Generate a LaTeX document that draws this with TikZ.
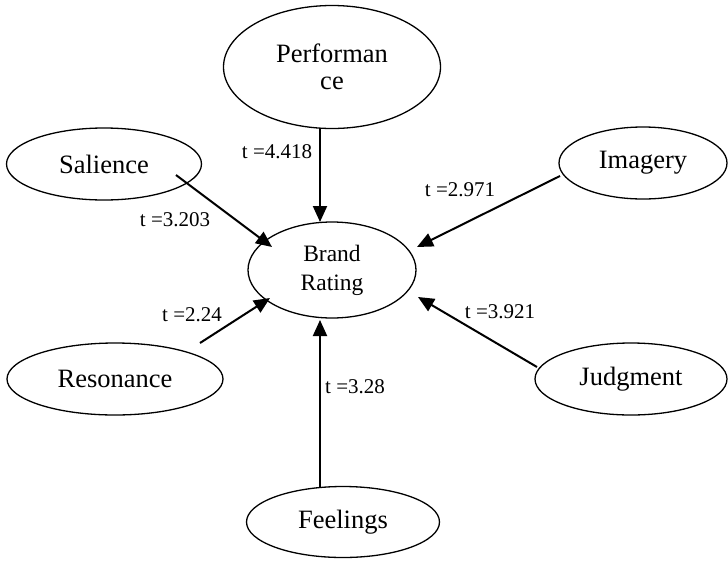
\documentclass[tikz,border=0pt]{standalone}
\usepackage{fontspec}
\setmainfont{Liberation Serif}
\usetikzlibrary{shapes.geometric,arrows.meta,positioning,calc}

\tikzset{
    construct/.style={ellipse, draw, line width=1.3pt, inner sep=0pt, align=center, font=\fontsize{26.5}{27.5}\selectfont},
    tval/.style={inner sep=0pt, font=\fontsize{21}{24}\selectfont},
    effect/.style={-{Triangle[length=16pt,width=14pt]}, line width=2pt},
}

\begin{document}
\begin{tikzpicture}[x=1pt, y=-1pt]
    \useasboundingbox (0,0) rectangle (728,560);
    % dimensions
    \node[construct, minimum width=217pt, minimum height=123pt] (perf) at (332,67) {Performan\\ce};
    \node[construct, minimum width=195pt, minimum height=72pt] (sal) at (104,164) {Salience};
    \node[construct, minimum width=168pt, minimum height=72pt] (img) at (643,163) {Imagery};
    \node[construct, minimum width=216pt, minimum height=72pt] (res) at (115,379) {Resonance};
    \node[construct, minimum width=192pt, minimum height=72pt] (judg) at (631,379) {Judgment};
    \node[construct, minimum width=193pt, minimum height=71pt] (feel) at (343,522) {Feelings};
    % outcome
    \node[construct, minimum width=168pt, minimum height=96pt, font=\fontsize{23.5}{29}\selectfont] (brand) at (332,270) {Brand\\Rating};

    % paths
    \draw[effect] ($(perf)+(-12,61)$) -- ($(brand)+(-12,-48)$);
    \draw[effect] ($(sal)+(72,11)$) -- ($(brand)+(-60,-23)$);
    \draw[effect] ($(img)+(-83,13)$) -- ($(brand)+(85,-23)$);
    \draw[effect] ($(res)+(85,-36)$) -- ($(brand)+(-62,28)$);
    \draw[effect] ($(judg)+(-94,-12)$) -- ($(brand)+(86,27)$);
    \draw[effect] ($(feel)+(-23,-34)$) -- ($(brand)+(-12,50)$);

    % t values
    \node[tval] (tperf) at (277,152) {t =4.418};
    \node[tval] (tsal) at (175,220) {t =3.203};
    \node[tval] (timg) at (460,190) {t =2.971};
    \node[tval] (tres) at (192,315) {t =2.24};
    \node[tval] (tjudg) at (500,312) {t =3.921};
    \node[tval] (tfeel) at (355,387) {t =3.28};
\end{tikzpicture}
\end{document}
